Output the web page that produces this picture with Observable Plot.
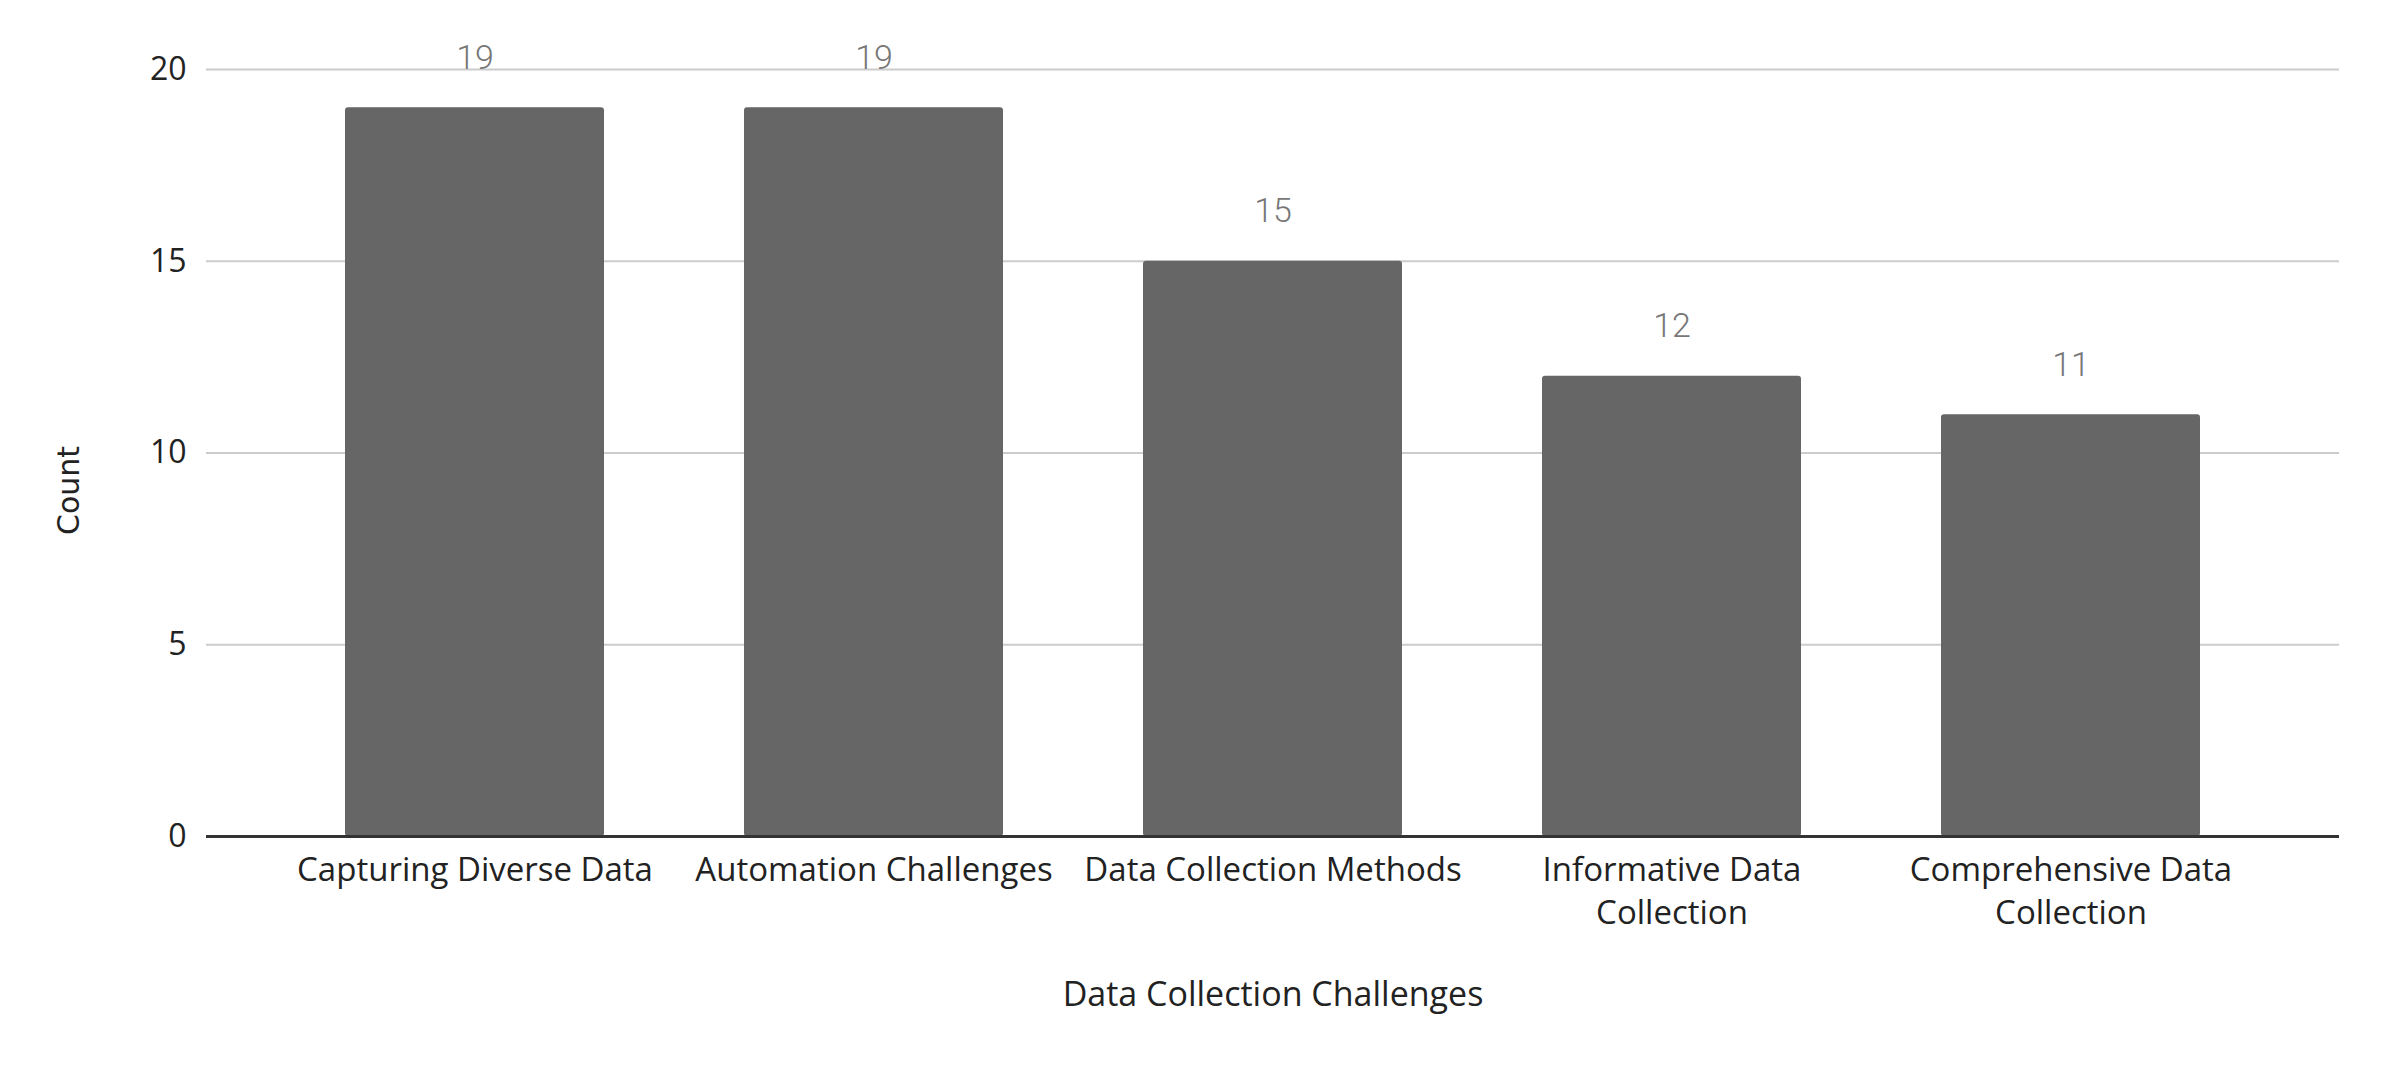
<!DOCTYPE html>
<html>
<head>
<meta charset="utf-8">
<script src="https://cdn.jsdelivr.net/npm/d3@7"></script>
<script src="https://cdn.jsdelivr.net/npm/@observablehq/plot@0.6"></script>
<style>
  html, body { margin: 0; padding: 0; background: #fff; }
  #chart svg { display: block; }
</style>
</head>
<body>
<div id="chart"></div>
<script>
const categories = [
  "Capturing Diverse Data",
  "Automation Challenges",
  "Data Collection Methods",
  "Informative Data Collection",
  "Comprehensive Data Collection"
];
const counts = [19, 19, 15, 12, 11];
const tickLabels = [
  "Capturing Diverse Data",
  "Automation Challenges",
  "Data Collection Methods",
  "Informative Data\nCollection",
  "Comprehensive Data\nCollection"
];
const yTicks = [0, 5, 10, 15, 20];
const xTitle = "Data Collection Challenges";
const yTitle = "Count";

const data = categories.map((c, i) => ({category: c, count: counts[i], label: tickLabels[i]}));

const labelFont = "'Open Sans', 'Noto Sans', sans-serif";

const chart = Plot.plot({
  width: 2392,
  height: 1068,
  marginLeft: 206,
  marginRight: 53,
  marginTop: 69,
  marginBottom: 232,
  style: {fontFamily: labelFont, background: "#fff"},
  x: {domain: categories, paddingInner: 0.35, paddingOuter: 0.343, axis: null},
  y: {domain: [0, 20], axis: null},
  marks: [
    Plot.ruleY(yTicks.filter(d => d > 0), {stroke: "#cccccc", strokeWidth: 2}),
    Plot.barY(data, {x: "category", y: "count", fill: "#666666", rx: 3}),
    Plot.ruleY([0], {stroke: "#333333", strokeWidth: 3}),
    Plot.axisY({ticks: yTicks, tickSize: 0, tickPadding: 20, fontSize: 32, color: "#222", label: null}),
    Plot.text(data, {x: "category", y: "count", text: d => String(d.count), dy: -50, fill: "#777", fontSize: 34, fontFamily: "Roboto", fontWeight: 300, lineAnchor: "middle"}),
    Plot.text(data, {x: "category", y: () => 0, text: "label", dy: 14, lineAnchor: "top", lineHeight: 1.3, fontSize: 33, fill: "#222"}),
    Plot.text([xTitle], {frameAnchor: "bottom", dy: 159, lineAnchor: "middle", fontSize: 34, fill: "#222"}),
    Plot.text([yTitle], {frameAnchor: "left", dx: -137, dy: 82, rotate: -90, lineAnchor: "middle", fontSize: 30, fill: "#222", fontFamily: "DejaVu Sans"})
  ]
});
document.getElementById("chart").appendChild(chart);
</script>
</body>
</html>
